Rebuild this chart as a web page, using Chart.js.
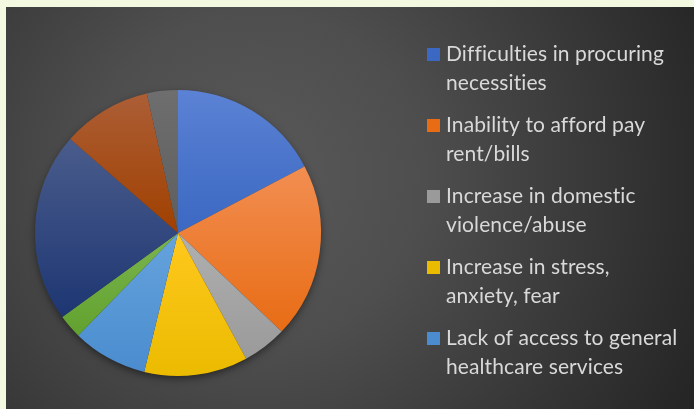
<!DOCTYPE html>
<html>
<head>
<meta charset="utf-8">
<script src="https://cdn.jsdelivr.net/npm/chart.js@4/dist/chart.umd.min.js"></script>
<style>
	html, body { margin: 0; padding: 0; }
	body { width: 694px; height: 409px; background: #f3f8e0; position: relative; overflow: hidden; }
	#wrap { position: absolute; left: 6px; top: 7px; width: 688px; height: 402px; }
</style>
</head>
<body>
<div id="wrap"><canvas id="impactChart" width="688" height="402"></canvas></div>
<script>
"use strict"

const categories = [
	["Difficulties in procuring", "necessities"],
	["Inability to afford pay", "rent/bills"],
	["Increase in domestic", "violence/abuse"],
	["Increase in stress,", "anxiety, fear"],
	["Lack of access to general", "healthcare services"],
	["Category 6"],
	["Category 7"],
	["Category 8"],
	["Category 9"],
]
const shares = [17.3, 19.8, 5.0, 11.7, 8.5, 2.7, 21.4, 10.1, 3.5]
// top and bottom shade of each slice
const sliceTop = ["#5b82d4", "#f28e52", "#b0b0b0", "#ffc81e", "#65a3dc", "#7ab54f", "#4a5c8c", "#ac5e36", "#6e6e6e"]
const sliceBottom = ["#3b68c2", "#e86c14", "#9a9a9a", "#ebbb00", "#4a8ccf", "#62a12e", "#1d3672", "#a04000", "#5e5e5e"]
const legendCount = 5

// bounding box of one slice, angles measured clockwise from 12 o'clock
function sliceBounds(cx, cy, r, a0, a1) {
	let ys = [cy]
	let pt = (a) => cy - r * Math.cos(a)
	ys.push(pt(a0), pt(a1))
	for (let k = 0; k <= 2; k++) {
		let a = k * Math.PI
		if (a > a0 && a < a1) ys.push(pt(a))
	}
	return [Math.min(...ys), Math.max(...ys)]
}

function sliceFill(context) {
	let chart = context.chart
	let area = chart.chartArea
	let i = context.dataIndex
	if (!area) return sliceBottom[i]
	let total = shares.reduce((a, b) => a + b, 0)
	let before = shares.slice(0, i).reduce((a, b) => a + b, 0)
	let a0 = (before / total) * Math.PI * 2
	let a1 = ((before + shares[i]) / total) * Math.PI * 2
	let cx = (area.left + area.right) / 2
	let cy = (area.top + area.bottom) / 2
	let r = Math.min(area.width, area.height) / 2
	let [y0, y1] = sliceBounds(cx, cy, r, a0, a1)
	let g = chart.ctx.createLinearGradient(0, y0, 0, y1)
	g.addColorStop(0, sliceTop[i])
	g.addColorStop(1, sliceBottom[i])
	return g
}

const backdrop = {
	id: "backdrop",
	beforeDraw(chart) {
		let ctx = chart.ctx
		let g = ctx.createRadialGradient(250, 170, 0, 250, 170, 480)
		g.addColorStop(0, "#595959")
		g.addColorStop(0.35, "#4e4e4e")
		g.addColorStop(1, "#262626")
		ctx.save()
		ctx.fillStyle = g
		ctx.fillRect(0, 0, chart.width, chart.height)
		ctx.restore()
	},
	beforeDatasetsDraw(chart) {
		let area = chart.chartArea
		let cx = (area.left + area.right) / 2
		let cy = (area.top + area.bottom) / 2
		let r = Math.min(area.width, area.height) / 2
		let ctx = chart.ctx
		ctx.save()
		ctx.shadowColor = "rgba(0, 0, 0, 0.55)"
		ctx.shadowBlur = 8
		ctx.shadowOffsetY = 3
		ctx.fillStyle = "#333333"
		ctx.beginPath()
		ctx.arc(cx, cy, r - 1, 0, Math.PI * 2)
		ctx.fill()
		ctx.restore()
	},
}

// legend on the right, only the first entries fit in the frame
const sideLegend = {
	id: "sideLegend",
	afterDraw(chart) {
		let ctx = chart.ctx
		ctx.save()
		ctx.font = "21px Lato"
		ctx.letterSpacing = "0.1px" // keeps "fi" / "ti" from joining
		ctx.textBaseline = "middle"
		for (let i = 0; i < legendCount; i++) {
			let y = 47 + i * 71
			ctx.fillStyle = sliceBottom[i]
			ctx.fillRect(421, y - 6, 13, 13)
			ctx.fillStyle = "#d9d9d9"
			categories[i].forEach((line, j) => {
				ctx.fillText(line, 440, y + j * 29)
			})
		}
		ctx.restore()
	},
}

new Chart(document.getElementById("impactChart"), {
	type: "pie",
	data: {
		labels: categories.map((c) => c.join(" ")),
		datasets: [
			{
				data: shares,
				backgroundColor: sliceFill,
				borderWidth: 0,
			},
		],
	},
	options: {
		responsive: false,
		animation: false,
		layout: {
			padding: { left: 29, top: 83, right: 373, bottom: 33 },
		},
		plugins: {
			legend: { display: false },
			tooltip: { enabled: false },
		},
	},
	plugins: [backdrop, sideLegend],
})
</script>
</body>
</html>
